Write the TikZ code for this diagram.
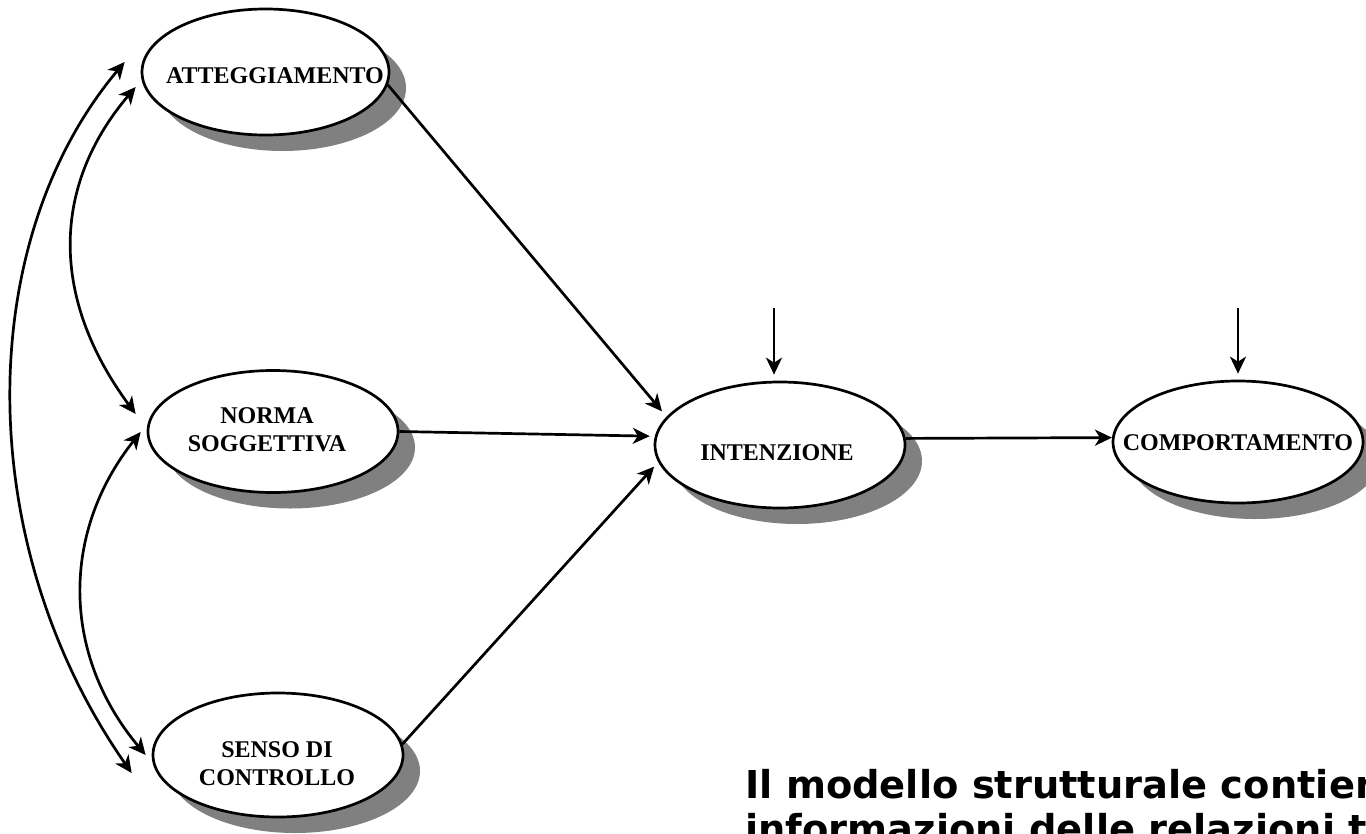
\documentclass[tikz,border=0pt]{standalone}
\usepackage{fontspec}
\setmainfont{Liberation Serif}
\newfontfamily\notefont{DejaVu Sans}
\usetikzlibrary{arrows.meta,shadows,shapes.geometric}
\begin{document}
\begin{tikzpicture}[x=1pt,y=-1pt,
  oval/.style={ellipse, draw, line width=2.7pt, fill=white, inner sep=0pt,
    drop shadow={shadow xshift=17pt, shadow yshift=-16pt, opacity=1, fill=black!50}},
  lbl/.style={font=\fontsize{24}{28}\selectfont\bfseries, align=center, inner sep=0pt},
  tipA/.tip={Stealth[length=17pt,width=16pt,inset=5pt]},
  arr/.style={line width=2.7pt, -tipA},
  dbl/.style={line width=2.7pt, tipA-tipA}]
\useasboundingbox (0,0) rectangle (1366,833);
\clip (0,0) rectangle (1366,833);
% ellipses
\node[oval, minimum width=247pt, minimum height=126pt] (att) at (265.5,72) {};
\node[oval, minimum width=250pt, minimum height=122pt] (norma) at (273,431.5) {};
\node[oval, minimum width=250pt, minimum height=124pt] (senso) at (278,755) {};
\node[oval, minimum width=250pt, minimum height=126pt] (int) at (780,445) {};
\node[oval, minimum width=250pt, minimum height=122pt] (comp) at (1238,442) {};
% labels
\node[lbl] (attl) at (275,76) {ATTEGGIAMENTO};
\node[lbl] (normal) at (267,430) {NORMA\\SOGGETTIVA};
\node[lbl] (sensol) at (277,763.5) {SENSO DI\\CONTROLLO};
\node[lbl] (intl) at (777,453) {INTENZIONE};
\node[lbl] (compl) at (1238,443) {COMPORTAMENTO};
% straight arrows
\draw[arr, shorten >=7pt] (att.-6) -- (int.166);
\draw[arr, shorten >=5pt] (norma.east) -- (int.176);
\draw[arr, shorten >=6pt] (senso.5) -- (int.188);
\draw[arr] (int.3) -- (comp.178);
\coordinate (intin) at (774,308);
\coordinate (compin) at (1238,308);
\draw[arr, shorten >=6pt] (intin) -- (intin |- int.north);
\draw[arr, shorten >=6pt] (compin) -- (compin |- comp.north);
% curved double arrows
\draw[dbl] ([shift={(-16,-10)}]att.west) .. controls +(-152,181) and +(-159,-228) .. ([shift={(-20,18)}]senso.west);
\draw[dbl] ([shift={(-5,15)}]att.west) .. controls +(-85,100) and +(-85,-115) .. ([shift={(-11,-17.5)}]norma.west);
\draw[dbl] ([shift={(-6,0.5)}]norma.west) .. controls +(-79.5,100) and +(-84.5,-101) .. ([shift={(-6,0)}]senso.west);
% note text
\node[anchor=base west, font=\notefont\bfseries\fontsize{38.4}{44}\selectfont, align=left, inner sep=0pt] (note) at (745,842) {Il modello strutturale contiene\\informazioni delle relazioni tra};
\end{tikzpicture}
\end{document}
